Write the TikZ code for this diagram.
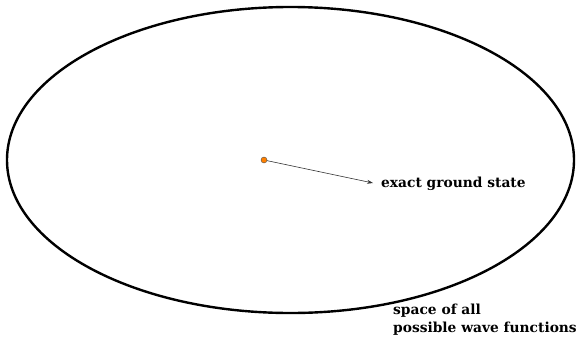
\documentclass[tikz,border=0pt]{standalone}
\usepackage{fontspec}
\setmainfont{DejaVu Serif}
\usetikzlibrary{arrows.meta}
\tikzset{
  lbl/.style={font=\bfseries\fontsize{13.8}{18}\selectfont, inner sep=0pt, anchor=west, align=left},
  dotst/.style={circle, fill=orange, draw=black!70, line width=0.4pt, inner sep=0pt, minimum size=6pt},
  arr/.style={-{Stealth[length=6pt,width=4pt]}, line width=0.6pt, black!80}
}
\begin{document}
\begin{tikzpicture}[x=1pt,y=-1pt]
\useasboundingbox (0,0) rectangle (580,340);
\draw[line width=2.4pt] (290.5,160) ellipse [x radius=283.5, y radius=153];
\node[dotst] (gs) at (264,160) {};
\coordinate (tip) at (373,183);
\draw[arr] (gs) -- (tip);
\node[lbl] (lab) at (381,184) {exact ground state};
\node[lbl, anchor=north west] (sp) at (393,304) {space of all\\possible wave functions};
\end{tikzpicture}
\end{document}
